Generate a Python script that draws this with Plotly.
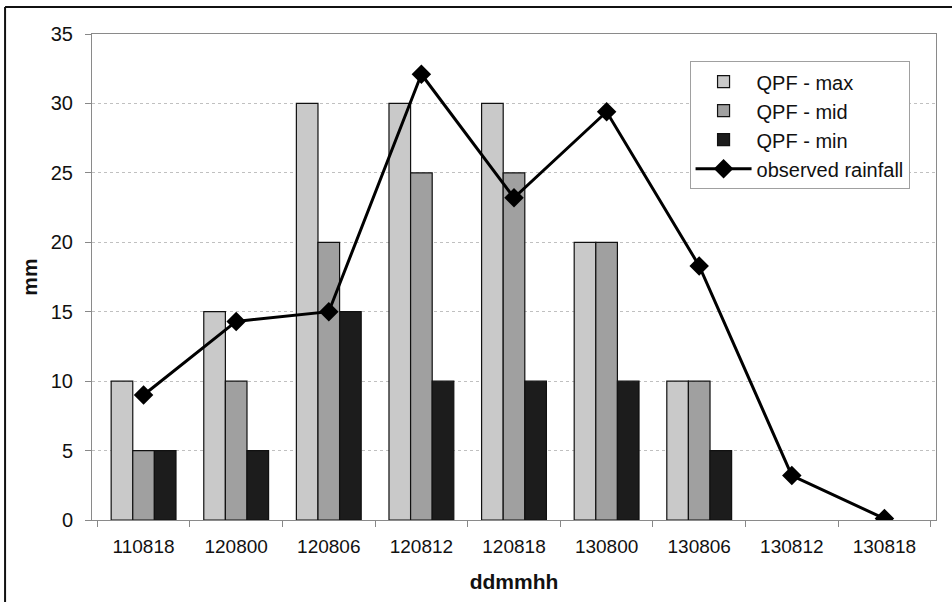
import plotly.graph_objects as go

# Forecast times (day/hour codes) and rainfall amounts in mm
times = ["110818", "120800", "120806", "120812", "120818",
         "130800", "130806", "130812", "130818"]
qpf_max = [10, 15, 30, 30, 30, 20, 10, None, None]
qpf_mid = [5, 10, 20, 25, 25, 20, 10, None, None]
qpf_min = [5, 5, 15, 10, 10, 10, 5, None, None]
observed = [9.0, 14.3, 15.0, 32.1, 23.2, 29.4, 18.3, 3.2, 0.1]

FONT = "Liberation Sans, Arial, sans-serif"

fig = go.Figure()
bar_line = dict(color="#111111", width=1.2)
fig.add_trace(go.Bar(x=times, y=qpf_max, name="QPF - max",
                     marker=dict(color="#c9c9c9", line=bar_line)))
fig.add_trace(go.Bar(x=times, y=qpf_mid, name="QPF - mid",
                     marker=dict(color="#a0a0a0", line=bar_line)))
fig.add_trace(go.Bar(x=times, y=qpf_min, name="QPF - min",
                     marker=dict(color="#1c1c1c", line=bar_line)))
fig.add_trace(go.Scatter(x=times, y=observed, name="observed rainfall",
                         mode="lines+markers",
                         line=dict(color="#000000", width=3),
                         marker=dict(symbol="diamond", size=15, color="#000000")))

fig.update_layout(
    width=952, height=602,
    margin=dict(l=92, r=16, t=34, b=82),
    paper_bgcolor="white", plot_bgcolor="white",
    barmode="group", bargap=0.3, bargroupgap=0,
    font=dict(family=FONT, color="#111111"),
    legend=dict(x=0.708, y=0.944, xanchor="left", yanchor="top",
                bgcolor="white", bordercolor="#a0a0a0", borderwidth=1,
                font=dict(size=20, family=FONT), tracegroupgap=0,
                itemwidth=56),
    xaxis=dict(
        title=dict(text="<b>ddmmhh</b>", font=dict(size=21), standoff=18),
        tickfont=dict(size=19), ticks="outside", tickson="boundaries",
        ticklen=6, tickcolor="#888888", ticklabelstandoff=9,
        showline=True, linecolor="#8a8a8a", linewidth=1, mirror=True,
        showgrid=False,
    ),
    yaxis=dict(
        title=dict(text="<b>mm</b>", font=dict(size=21), standoff=7),
        range=[0, 35], dtick=5, tickfont=dict(size=20),
        ticks="outside", ticklen=6, tickcolor="#888888", ticklabelstandoff=8,
        showline=True, linecolor="#8a8a8a", linewidth=1, mirror=True,
        showgrid=True, gridcolor="#c0c0c0", griddash="dot", gridwidth=1,
        zeroline=False,
    ),
    shapes=[
        # frame lines around the chart area
        dict(type="line", xref="paper", yref="paper",
             x0=-0.103, x1=1.02, y0=1.0556, y1=1.0556,
             line=dict(color="#111111", width=2)),
        dict(type="line", xref="paper", yref="paper",
             x0=-0.103, x1=-0.103, y0=1.0556, y1=-0.2,
             line=dict(color="#111111", width=2)),
    ],
)

fig.write_html("out.html")
